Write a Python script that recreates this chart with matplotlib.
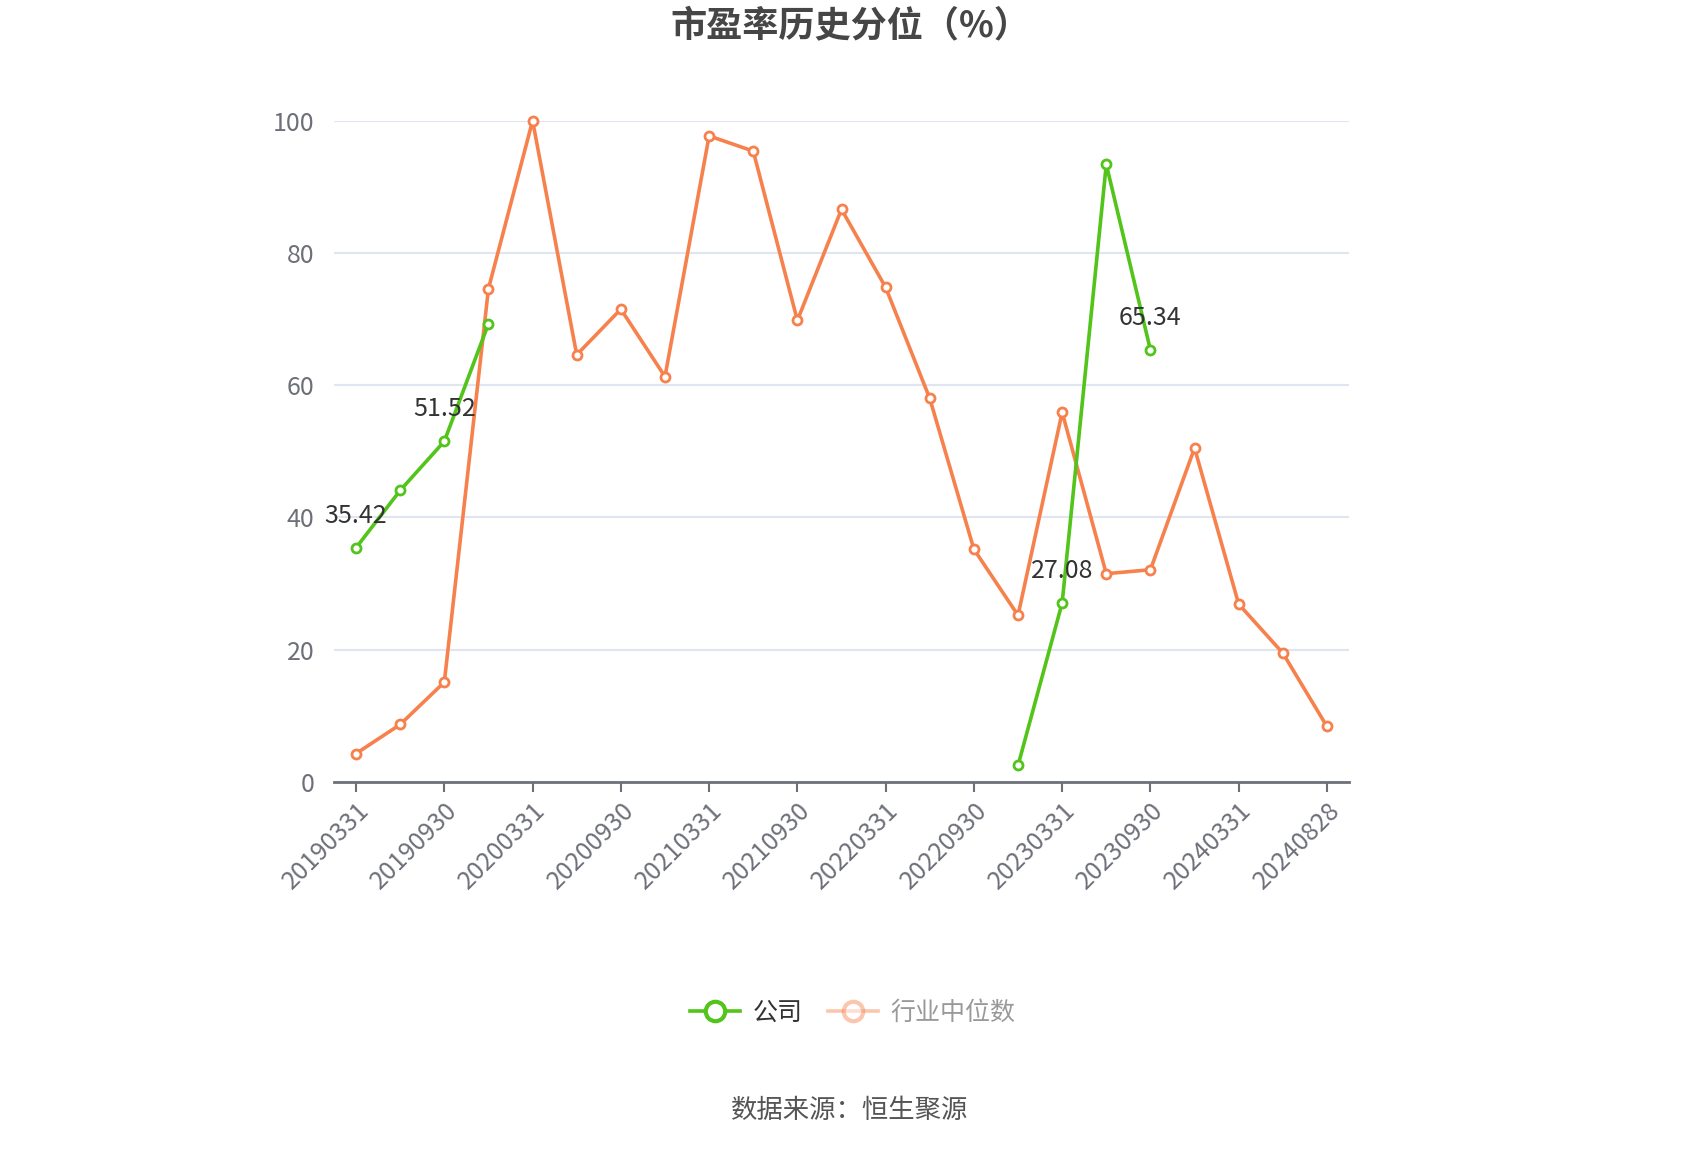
import matplotlib
matplotlib.use("Agg")
import matplotlib.pyplot as plt
from matplotlib.lines import Line2D
import numpy as np

plt.rcParams['font.family'] = ['Noto Sans CJK SC', 'DejaVu Sans']

# dates (quarterly report dates)
dates = ["20190331", "20190630", "20190930", "20191231",
         "20200331", "20200630", "20200930", "20201231",
         "20210331", "20210630", "20210930", "20211231",
         "20220331", "20220630", "20220930", "20221231",
         "20230331", "20230630", "20230930", "20231231",
         "20240331", "20240630", "20240828"]

# company PE percentile (None = no data)
company = [35.42, 44.1, 51.52, 69.3,
           None, None, None, None,
           None, None, None, None,
           None, None, None, 2.5,
           27.08, 93.4, 65.34, None,
           None, None, None]

# industry median PE percentile
industry = [4.3, 8.7, 15.1, 74.6,
            100.0, 64.6, 71.5, 61.3,
            97.7, 95.4, 69.8, 86.6,
            74.8, 58.0, 35.2, 25.2,
            55.9, 31.5, 32.1, 50.5,
            26.9, 19.5, 8.4]

# points that get a value label
label_idx = [0, 2, 16, 18]

green = '#52c41a'
orange = '#f7814d'

fig = plt.figure(figsize=(17, 11.5), dpi=100)
ax = fig.add_axes([334 / 1700, 1 - 782 / 1150, (1349 - 334) / 1700, (782 - 120.7) / 1150])

x = np.arange(len(dates))
comp = np.array([np.nan if v is None else v for v in company])

ax.plot(x, industry, color=orange, lw=2.6, marker='o', ms=6.5, mfc='white',
        mec=orange, mew=2, zorder=3, clip_on=False)
ax.plot(x, comp, color=green, lw=2.6, marker='o', ms=6.5, mfc='white',
        mec=green, mew=2, zorder=4, clip_on=False)

for i in label_idx:
    ax.annotate(f"{company[i]:.2f}", (x[i], company[i]), xytext=(0, 23),
                textcoords='offset points', ha='center', va='center',
                fontsize=18, color='#333333', zorder=5)

ax.set_xlim(-0.5, len(dates) - 0.5)
ax.set_ylim(0, 100)
ax.set_yticks([0, 20, 40, 60, 80, 100])
ax.yaxis.grid(True, color='#e0e6f1', lw=1.5)
ax.set_axisbelow(True)

tick_pos = x[::2]
ax.set_xticks(tick_pos)
ax.set_xticklabels([dates[i] for i in tick_pos], rotation=45, ha='right',
                   rotation_mode='anchor')

for s in ['top', 'right', 'left']:
    ax.spines[s].set_visible(False)
ax.spines['bottom'].set_color('#6e7079')
ax.spines['bottom'].set_linewidth(2)

ax.tick_params(axis='y', length=0, labelsize=18, labelcolor='#6e7079', pad=14)
ax.tick_params(axis='x', length=7, width=1.5, color='#6e7079', labelsize=18,
               labelcolor='#6e7079', pad=4)

fig.text(0.5, 1 - 26 / 1150, "市盈率历史分位（%）", ha='center', va='center',
         fontsize=26, fontweight='bold', color='#464646')

handles = [Line2D([0], [0], color=green, lw=2.6, marker='o', ms=14, mfc='white',
                  mec=green, mew=3),
           Line2D([0], [0], color=orange, lw=2.6, marker='o', ms=14, mfc='white',
                  mec=orange, mew=3, alpha=0.45)]
leg = fig.legend(handles, ["公司", "行业中位数"], loc='center',
                 bbox_to_anchor=(853 / 1700, 1 - 1013 / 1150), ncol=2, frameon=False,
                 fontsize=18, handlelength=2.0, handletextpad=0.5, columnspacing=1.0)
leg.get_texts()[0].set_color('#333333')
leg.get_texts()[1].set_color('#999999')

fig.text(0.5, 1 - 1110 / 1150, "数据来源：恒生聚源", ha='center', va='center',
         fontsize=19, color='#555555')

fig.savefig("out.png", dpi=100, facecolor='white')
